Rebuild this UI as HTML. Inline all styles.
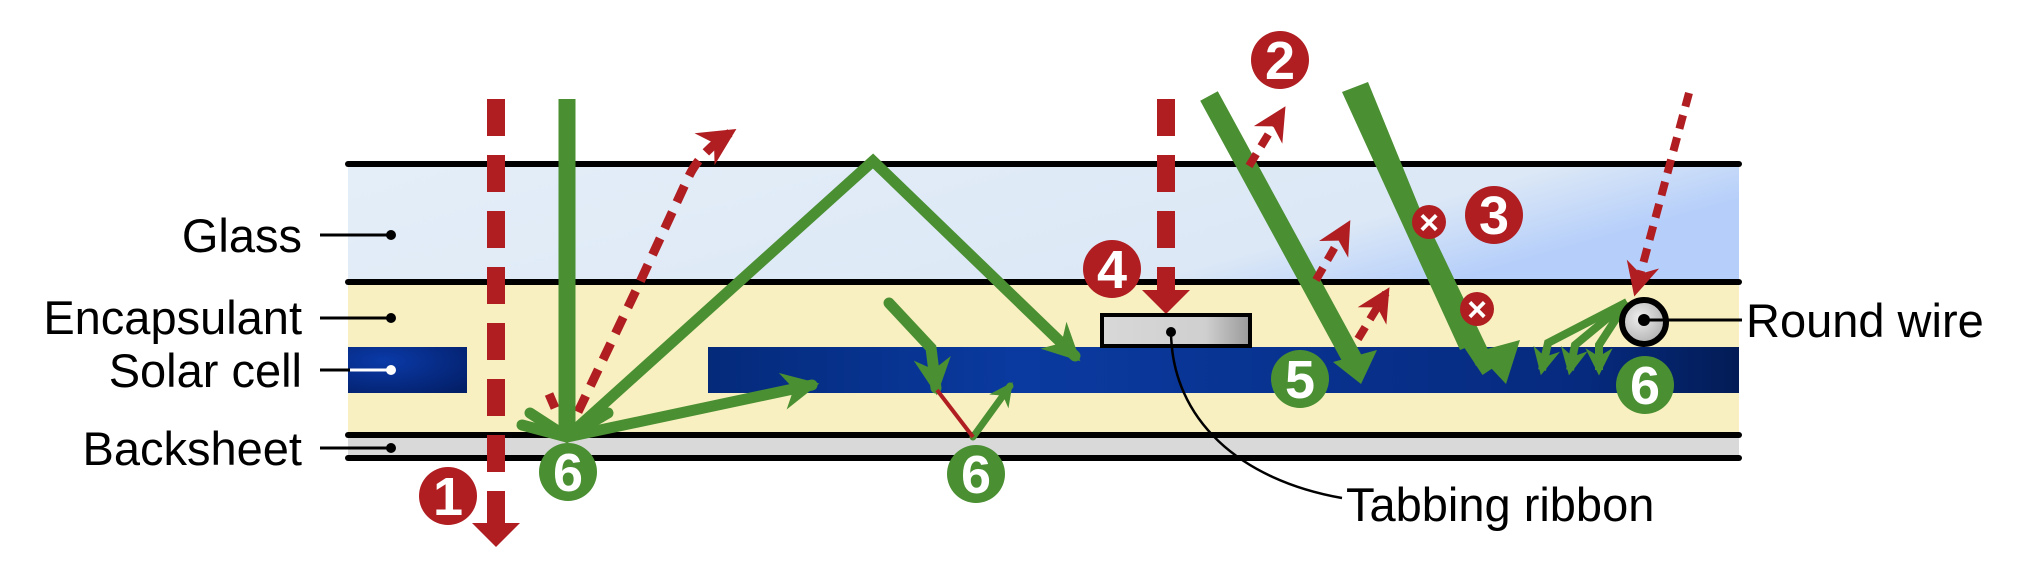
<!DOCTYPE html>
<html><head><meta charset="utf-8"><style>
html,body{margin:0;padding:0;background:#fff;}
svg{display:block;}
text{font-family:"Liberation Sans",Arial,sans-serif;}
</style></head><body>
<svg width="2025" height="565" viewBox="0 0 2025 565">
<defs>
<linearGradient id="glassG" x1="0" y1="0" x2="1" y2="0.3">
<stop offset="0" stop-color="#e4eef8"/><stop offset="0.8" stop-color="#dce8f6"/><stop offset="1" stop-color="#b6cffa"/></linearGradient>
<linearGradient id="cellG" x1="0" y1="0" x2="1" y2="0">
<stop offset="0" stop-color="#042a7a"/><stop offset="0.3" stop-color="#0a3aa0"/><stop offset="0.85" stop-color="#062a7e"/><stop offset="1" stop-color="#031c56"/></linearGradient>
<radialGradient id="cellL" cx="0.3" cy="0.3" r="0.9"><stop offset="0" stop-color="#0a3aa8"/><stop offset="1" stop-color="#031f68"/></radialGradient>
<linearGradient id="ribG" x1="0" y1="0" x2="1" y2="0"><stop offset="0" stop-color="#d8d8d8"/><stop offset="0.7" stop-color="#cfcfcf"/><stop offset="1" stop-color="#9a9a9a"/></linearGradient>
<radialGradient id="wireG" cx="0.4" cy="0.4" r="0.7"><stop offset="0" stop-color="#eee"/><stop offset="1" stop-color="#aaa"/></radialGradient>
<marker id="gA" viewBox="0 0 10 10" refX="8" refY="5" markerWidth="3.4" markerHeight="3.4" orient="auto"><path d="M0,0 L10,5 L0,10 L3,5 z" fill="#4a8f32"/></marker>
<marker id="rA" viewBox="0 0 10 10" refX="8" refY="5" markerWidth="4.2" markerHeight="4.2" orient="auto"><path d="M0,0 L10,5 L0,10 L3,5 z" fill="#b01e22"/></marker>
</defs>

<g>
<rect x="348" y="164" width="1391" height="118" fill="url(#glassG)"/>
<rect x="348" y="282" width="1391" height="153" fill="#f8f0c0"/>
<rect x="348" y="435" width="1391" height="23" fill="#d9d9d9"/>
<rect x="348" y="347" width="119" height="46" fill="url(#cellL)"/>
<rect x="708" y="347" width="1031" height="46" fill="url(#cellG)"/>
<g stroke="#000" stroke-width="6" stroke-linecap="round">
<line x1="348" y1="164" x2="1739" y2="164"/>
<line x1="348" y1="282" x2="1739" y2="282"/>
<line x1="348" y1="435" x2="1739" y2="435"/>
<line x1="348" y1="458" x2="1739" y2="458"/>
</g>
</g>

<g font-size="47" text-anchor="end">
<text x="302" y="252">Glass</text>
<text x="302" y="334">Encapsulant</text>
<text x="302" y="387">Solar cell</text>
<text x="302" y="465">Backsheet</text>
<g stroke="#000" stroke-width="3">
<line x1="320" y1="235" x2="391" y2="235"/><line x1="320" y1="318" x2="391" y2="318"/>
<line x1="320" y1="370" x2="350" y2="370"/><line x1="350" y1="370" x2="391" y2="370" stroke="#fff"/>
<line x1="320" y1="448" x2="391" y2="448"/>
</g>
<circle cx="391" cy="235" r="5"/><circle cx="391" cy="318" r="5"/><circle cx="391" cy="370" r="5" fill="#fff"/><circle cx="391" cy="448" r="5"/>
</g>

<g>
<line x1="496" y1="99" x2="496" y2="524" stroke="#b01e22" stroke-width="18" stroke-dasharray="37,19"/>
<path d="M472,523 L520,523 L496,547 z" fill="#b01e22"/>
</g>
<g fill="none" stroke="#b01e22" stroke-width="9" stroke-dasharray="18,11">
<path d="M578,412 L640,282 L688,178 Q700,152 730,133" marker-end="url(#rA)"/>
<line x1="549" y1="394" x2="555" y2="408" stroke-dasharray="none"/>
</g>

<g fill="none" stroke="#4a8f32" stroke-width="11" stroke-linecap="round">
<path d="M567,99 L567,437" stroke-width="17" stroke-linecap="butt"/>
<path d="M567,437 L873,161 L1075,356" marker-end="url(#gA)"/>
<path d="M567,437 L812,385" marker-end="url(#gA)"/>
<path d="M530,413 L567,437 L608,413"/>
<path d="M522,425 L567,437"/>
<path d="M889,303 L931,348 L936,388" marker-end="url(#gA)"/>
<path d="M973,437 L1010,386" stroke-width="7" marker-end="url(#gA)"/>
</g>
<line x1="937" y1="390" x2="973" y2="437" stroke="#b01e22" stroke-width="4"/>

<g>
<line x1="1166" y1="99" x2="1166" y2="292" stroke="#b01e22" stroke-width="18" stroke-dasharray="37,19"/>
<path d="M1142,290 L1190,290 L1166,314 z" fill="#b01e22"/>
</g>
<rect x="1102" y="315" width="148" height="31" fill="url(#ribG)" stroke="#000" stroke-width="4"/>
<circle cx="1171" cy="332" r="5"/>
<path d="M1171,332 C1172,420 1240,480 1342,498" fill="none" stroke="#000" stroke-width="2.5"/>
<text x="1346" y="521" font-size="47">Tabbing ribbon</text>

<g>
<line x1="1209" y1="96" x2="1355" y2="364" stroke="#4a8f32" stroke-width="20"/>
<path d="M1333,362 L1377,350 L1361,384 z" fill="#4a8f32"/>
</g>
<g stroke="#b01e22" stroke-width="8" stroke-dasharray="14,9" fill="none">
<path d="M1249,166 L1282,112" marker-end="url(#rA)"/>
<path d="M1316,280 L1347,226" marker-end="url(#rA)"/>
<path d="M1358,339 L1386,293" marker-end="url(#rA)"/>
</g>

<g>
<path d="M1342,92 L1368,82 L1475,344 L1460,350 z" fill="#4a8f32"/>
<line x1="1416" y1="220" x2="1484" y2="362" stroke="#4a8f32" stroke-width="18"/>
<path d="M1476,352 L1520,340 L1506,384 z" fill="#4a8f32"/>
<line x1="1470" y1="340" x2="1490" y2="370" stroke="#4a8f32" stroke-width="18"/>
</g>
<g>
<circle cx="1429" cy="222" r="17" fill="#b01e22"/><text x="1429" y="234" font-size="34" fill="#fff" text-anchor="middle" font-weight="bold">×</text>
<circle cx="1477" cy="309" r="17" fill="#b01e22"/><text x="1477" y="321" font-size="34" fill="#fff" text-anchor="middle" font-weight="bold">×</text>
</g>

<path d="M1689,93 L1636,290" stroke="#b01e22" stroke-width="8" stroke-dasharray="14,9" fill="none" marker-end="url(#rA)"/>
<g fill="none" stroke="#4a8f32" stroke-width="8">
<path d="M1627,302 L1548,343 L1542,370" marker-end="url(#gA)"/>
<path d="M1627,302 L1575,345 L1570,370" marker-end="url(#gA)"/>
<path d="M1627,302 L1599,345 L1599,370" marker-end="url(#gA)"/>
</g>
<circle cx="1644" cy="322" r="22" fill="url(#wireG)" stroke="#000" stroke-width="6"/>
<circle cx="1644" cy="320" r="6"/>
<line x1="1644" y1="320" x2="1742" y2="320" stroke="#000" stroke-width="3"/>
<text x="1746" y="337" font-size="47">Round wire</text>

<g font-size="54" font-weight="bold" text-anchor="middle" fill="#fff">
<circle cx="448" cy="496" r="29" fill="#b01e22"/><text x="448" y="515">1</text>
<circle cx="1280" cy="60" r="29" fill="#b01e22"/><text x="1280" y="79">2</text>
<circle cx="1494" cy="215" r="29" fill="#b01e22"/><text x="1494" y="234">3</text>
<circle cx="1112" cy="269" r="29" fill="#b01e22"/><text x="1112" y="288">4</text>
<circle cx="1300" cy="379" r="29" fill="#4a8f32"/><text x="1300" y="398">5</text>
<circle cx="568" cy="472" r="29" fill="#4a8f32"/><text x="568" y="491">6</text>
<circle cx="976" cy="474" r="29" fill="#4a8f32"/><text x="976" y="493">6</text>
<circle cx="1645" cy="385" r="29" fill="#4a8f32"/><text x="1645" y="404">6</text>
</g>
</svg>
</body></html>
